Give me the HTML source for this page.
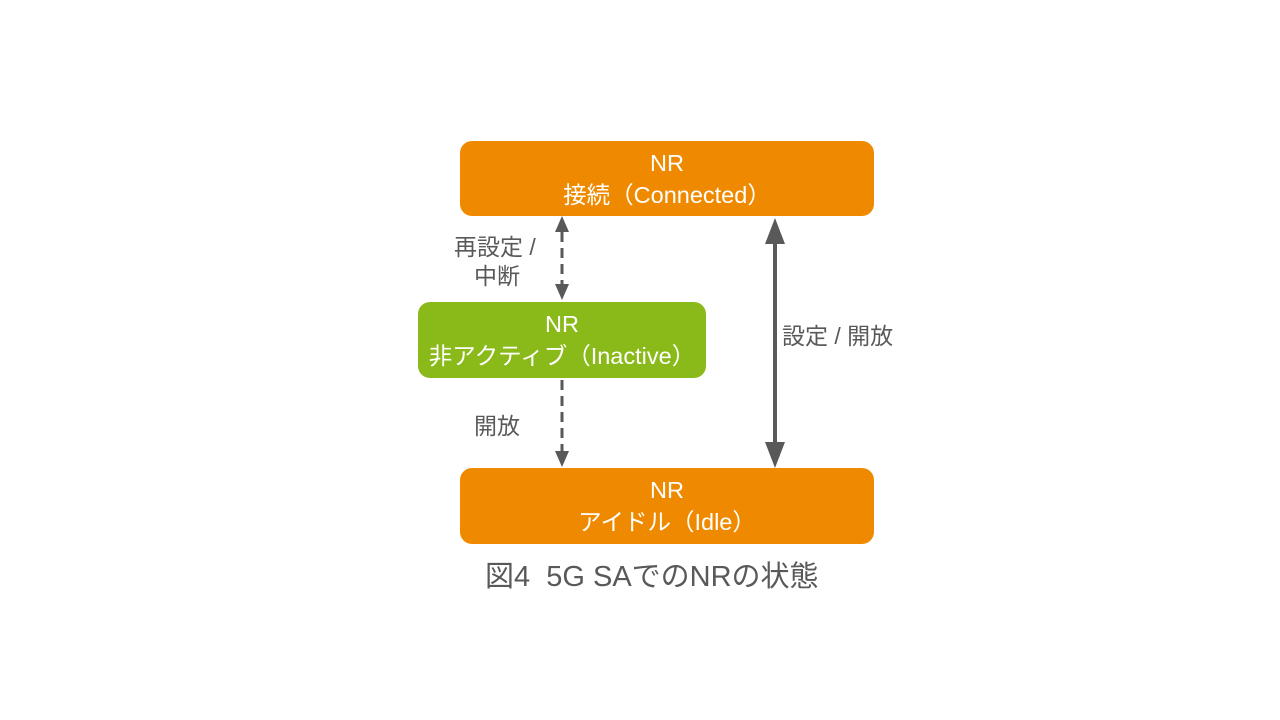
<!DOCTYPE html>
<html><head><meta charset="utf-8"><style>
body{margin:0;width:1280px;height:720px;background:#fff;position:relative;overflow:hidden;font-family:"Liberation Sans","Noto Sans CJK JP",sans-serif}
.b{position:absolute;border-radius:12px;color:#fff;font-size:23.5px;line-height:32px;text-align:center;display:flex;flex-direction:column;justify-content:center}
.o{background:#ef8a00}.g{background:#8aba1a}
.t{position:absolute;color:#595959;font-size:23px;line-height:30px;white-space:nowrap}
</style></head><body>
<div class="b o" style="left:460px;top:141px;width:414px;height:75px">NR<br>接続（Connected）</div>
<div class="b g" style="left:418px;top:302px;width:288px;height:76px">NR<br>非アクティブ（Inactive）</div>
<div class="b o" style="left:460px;top:468px;width:414px;height:76px">NR<br>アイドル（Idle）</div>
<svg width="1280" height="720" style="position:absolute;left:0;top:0">
<g fill="#595959" stroke="none">
<polygon points="562,216 555,232 569,232"/>
<polygon points="562,300 555,284 569,284"/>
<polygon points="562,467 555,451 569,451"/>
<polygon points="775,218 765,244 785,244"/>
<polygon points="775,468 765,442 785,442"/>
</g>
<g stroke="#595959" stroke-width="3" stroke-dasharray="10,6">
<line x1="562" y1="232" x2="562" y2="284"/>
<line x1="562" y1="380" x2="562" y2="451"/>
</g>
<line x1="775" y1="242" x2="775" y2="444" stroke="#595959" stroke-width="4"/>
</svg>
<div class="t" style="left:454px;top:232px">再設定 /</div>
<div class="t" style="left:474px;top:261px">中断</div>
<div class="t" style="left:474px;top:411px">開放</div>
<div class="t" style="left:782px;top:321px">設定 / 開放</div>
<div class="t" style="left:485px;top:560px;font-size:29px;line-height:34px">図4&nbsp;&nbsp;5G SAでのNRの状態</div>
</body></html>
